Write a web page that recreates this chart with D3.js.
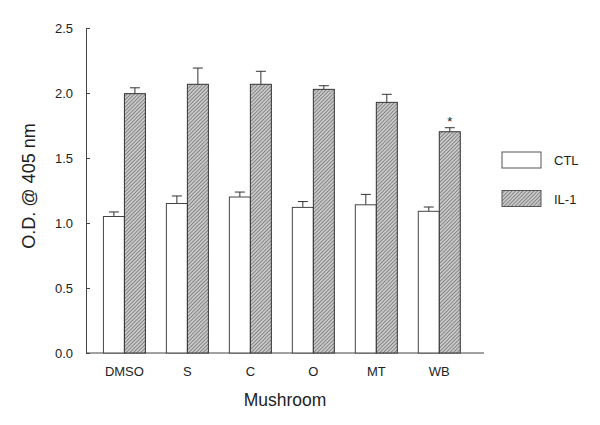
<!DOCTYPE html>
<html><head><meta charset="utf-8">
<script src="https://cdn.jsdelivr.net/npm/d3@7"></script>
<style>body{margin:0;background:#fff;} svg{display:block;}</style>
</head><body>
<script>
const categories = ["DMSO","S","C","O","MT","WB"];
const ctlValues = [1.05, 1.15, 1.20, 1.12, 1.14, 1.09];
const ctlErrors = [0.035, 0.058, 0.038, 0.045, 0.08, 0.033];
const il1Values = [1.995, 2.067, 2.067, 2.028, 1.928, 1.702];
const il1Errors = [0.045, 0.125, 0.10, 0.028, 0.062, 0.031];
const significant = [false,false,false,false,false,true];
const yTicks = [0, 0.5, 1.0, 1.5, 2.0, 2.5];
const seriesNames = ["CTL","IL-1"];

const W=600,H=425;
const svg=d3.select("body").append("svg").attr("width",W).attr("height",H);
const defs=svg.append("defs");
const pat=defs.append("pattern").attr("id","hatch").attr("patternUnits","userSpaceOnUse")
  .attr("width",2.6).attr("height",2.6).attr("patternTransform","rotate(45)");
pat.append("rect").attr("width",2.6).attr("height",2.6).attr("fill","#c8c8c8");
pat.append("line").attr("x1",0).attr("y1",0).attr("x2",0).attr("y2",2.6).attr("stroke","#4a4a4a").attr("stroke-width",1);

const x=d3.scaleLinear().domain([0.39,6.71]).range([86,484]);
const y=d3.scaleLinear().domain([0,2.5]).range([353,28]);
const bw=21;
const font="Arial, 'Liberation Sans', sans-serif";

// axes
const yAxis=d3.axisLeft(y).tickValues(yTicks).tickFormat(d3.format(".1f")).tickSizeInner(-4).tickSizeOuter(0).tickPadding(13);
const gy=svg.append("g").attr("transform","translate(86,0)").call(yAxis);
gy.select(".domain").attr("stroke","#444");
gy.selectAll(".tick line").attr("stroke","#444");
gy.selectAll("text").attr("font-family",font).attr("font-size",13).attr("fill","#222");

svg.append("line").attr("x1",86).attr("x2",484).attr("y1",y(0)).attr("y2",y(0)).attr("stroke","#444");

// bars
const g=svg.append("g");
categories.forEach((c,i)=>{
  const cx=x(i+1);
  const ctlX=cx-bw;
  g.append("line").attr("x1",ctlX+bw/2).attr("x2",ctlX+bw/2).attr("y1",y(ctlValues[i])).attr("y2",y(ctlValues[i]+ctlErrors[i])).attr("stroke","#333");
  g.append("line").attr("x1",ctlX+bw/2-5).attr("x2",ctlX+bw/2+5).attr("y1",y(ctlValues[i]+ctlErrors[i])).attr("y2",y(ctlValues[i]+ctlErrors[i])).attr("stroke","#333");
  g.append("rect").attr("x",ctlX).attr("y",y(ctlValues[i])).attr("width",bw).attr("height",y(0)-y(ctlValues[i]))
    .attr("fill","#fff").attr("stroke","#444");
  const ilX=cx;
  g.append("line").attr("x1",ilX+bw/2).attr("x2",ilX+bw/2).attr("y1",y(il1Values[i])).attr("y2",y(il1Values[i]+il1Errors[i])).attr("stroke","#333");
  g.append("line").attr("x1",ilX+bw/2-5).attr("x2",ilX+bw/2+5).attr("y1",y(il1Values[i]+il1Errors[i])).attr("y2",y(il1Values[i]+il1Errors[i])).attr("stroke","#333");
  g.append("rect").attr("x",ilX).attr("y",y(il1Values[i])).attr("width",bw).attr("height",y(0)-y(il1Values[i]))
    .attr("fill","url(#hatch)").attr("stroke","#333");
  if(significant[i]){
    g.append("text").attr("x",ilX+bw/2).attr("y",y(il1Values[i]+il1Errors[i])-2).attr("text-anchor","middle")
      .attr("font-family",font).attr("font-size",13).attr("fill","#222").text("*");
  }
  svg.append("text").attr("x",cx).attr("y",375.5).attr("text-anchor","middle")
    .attr("font-family",font).attr("font-size",13).attr("fill","#222").text(c);
});

// titles
svg.append("text").attr("x",285).attr("y",406).attr("text-anchor","middle")
  .attr("font-family",font).attr("font-size",17.5).attr("fill","#222").text("Mushroom");
svg.append("text").attr("transform","translate(35,186) rotate(-90)").attr("text-anchor","middle")
  .attr("font-family",font).attr("font-size",18).attr("fill","#222").text("O.D. @ 405 nm");

// legend
const lg=svg.append("g");
seriesNames.forEach((s,i)=>{
  const ly=152+i*38.5;
  lg.append("rect").attr("x",502).attr("y",ly).attr("width",39).attr("height",16)
    .attr("fill",i===0?"#fff":"url(#hatch)").attr("stroke","#555");
  lg.append("text").attr("x",554).attr("y",ly+13).attr("font-family",font).attr("font-size",13).attr("fill","#222").text(s);
});
</script>
</body></html>
